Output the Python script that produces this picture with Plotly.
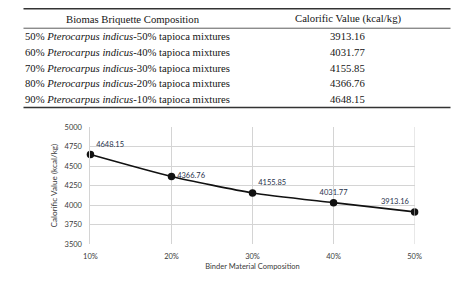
import plotly.graph_objects as go

# ---- data ----
table_header = ["Biomas Briquette Composition", "Calorific Value (kcal/kg)"]
pterocarpus_pct = ["50%", "60%", "70%", "80%", "90%"]
tapioca_pct = ["50%", "40%", "30%", "20%", "10%"]
table_values = ["3913.16", "4031.77", "4155.85", "4366.76", "4648.15"]

binder = ["10%", "20%", "30%", "40%", "50%"]
calorific = [4648.15, 4366.76, 4155.85, 4031.77, 3913.16]
label_pos = ["top right", "middle right", "top right", "top center", "top left"]
y_ticks = [3500, 3750, 4000, 4250, 4500, 4750, 5000]

W, H = 474, 285
comp_col = [f"{p} <i>Pterocarpus indicus</i>-{t} tapioca mixtures"
            for p, t in zip(pterocarpus_pct, tapioca_pct)]

# table layout (pixels from top-left)
TBL_L, TBL_R = 17, 457
COL1_C, COL2_C = 130, 351
HDR_Y, ROW0_Y, ROW_H = 15, 33.3, 16.2
tfont = dict(family="Liberation Serif", size=10.7, color="#151515")

def px(x):
    return x / W

def py(y):
    return 1 - y / H

annotations = []
for text, cx in zip(table_header, [COL1_C, COL2_C]):
    annotations.append(dict(text=text, x=px(cx), y=py(HDR_Y), xref="paper", yref="paper",
                            xanchor="center", yanchor="middle", showarrow=False, font=tfont))
for i, (c1, c2) in enumerate(zip(comp_col, table_values)):
    yy = py(ROW0_Y + i * ROW_H)
    annotations.append(dict(text=c1, x=px(TBL_L), y=yy, xref="paper", yref="paper",
                            xanchor="left", yanchor="middle", showarrow=False, font=tfont))
    annotations.append(dict(text=c2, x=px(COL2_C), y=yy, xref="paper", yref="paper",
                            xanchor="center", yanchor="middle", showarrow=False, font=tfont))

fig = go.Figure()

fig.add_trace(go.Scatter(
    x=binder, y=calorific, mode="lines+markers+text",
    line=dict(color="#111", width=1.6, shape="spline", smoothing=0.6),
    marker=dict(color="#111", size=7.5),
    text=[f"{v:.2f}" for v in calorific], textposition=label_pos,
    textfont=dict(family="Lato", size=7.5, color="#26304a"),
    cliponaxis=False, showlegend=False,
))

grid = "#d4d4d4"
fig.update_layout(
    width=W, height=H, margin=dict(l=0, r=0, t=0, b=0),
    paper_bgcolor="white", plot_bgcolor="white",
    font=dict(family="Lato", size=7.5, color="#3a3a3a"),
    annotations=annotations,
    xaxis=dict(domain=[86 / W, 420 / W], type="category", range=[0, 4],
               showgrid=True, gridcolor=grid, gridwidth=1, ticks="",
               showline=False, zeroline=False, ticklabelstandoff=6,
               title=dict(text="Binder Material Composition", standoff=4,
                          font=dict(size=7.5)),
               tickfont=dict(size=7.5)),
    yaxis=dict(domain=[1 - 248 / H, 1 - 127 / H], range=[3500, 5000],
               tickvals=y_ticks, showgrid=True, gridcolor=grid, gridwidth=1,
               showline=True, linecolor=grid, zeroline=False, ticks="",
               ticklabelstandoff=6,
               title=dict(text="Calorific Value (kcal/kg)", standoff=5,
                          font=dict(size=8.2)),
               tickfont=dict(size=7.5)),
    shapes=[
        dict(type="line", xref="paper", yref="paper", x0=px(TBL_L), x1=px(TBL_R),
             y0=py(5), y1=py(5), line=dict(color="#333", width=1.5)),
        dict(type="line", xref="paper", yref="paper", x0=px(TBL_L), x1=px(TBL_R),
             y0=py(25), y1=py(25), line=dict(color="#333", width=0.8)),
        dict(type="line", xref="paper", yref="paper", x0=px(TBL_L), x1=px(TBL_R),
             y0=py(107), y1=py(107), line=dict(color="#333", width=1.5)),
        dict(type="line", xref="x", yref="y", x0=4, x1=4, y0=3500, y1=5000,
             line=dict(color=grid, width=1)),
    ],
)

fig.write_html("out.html")
